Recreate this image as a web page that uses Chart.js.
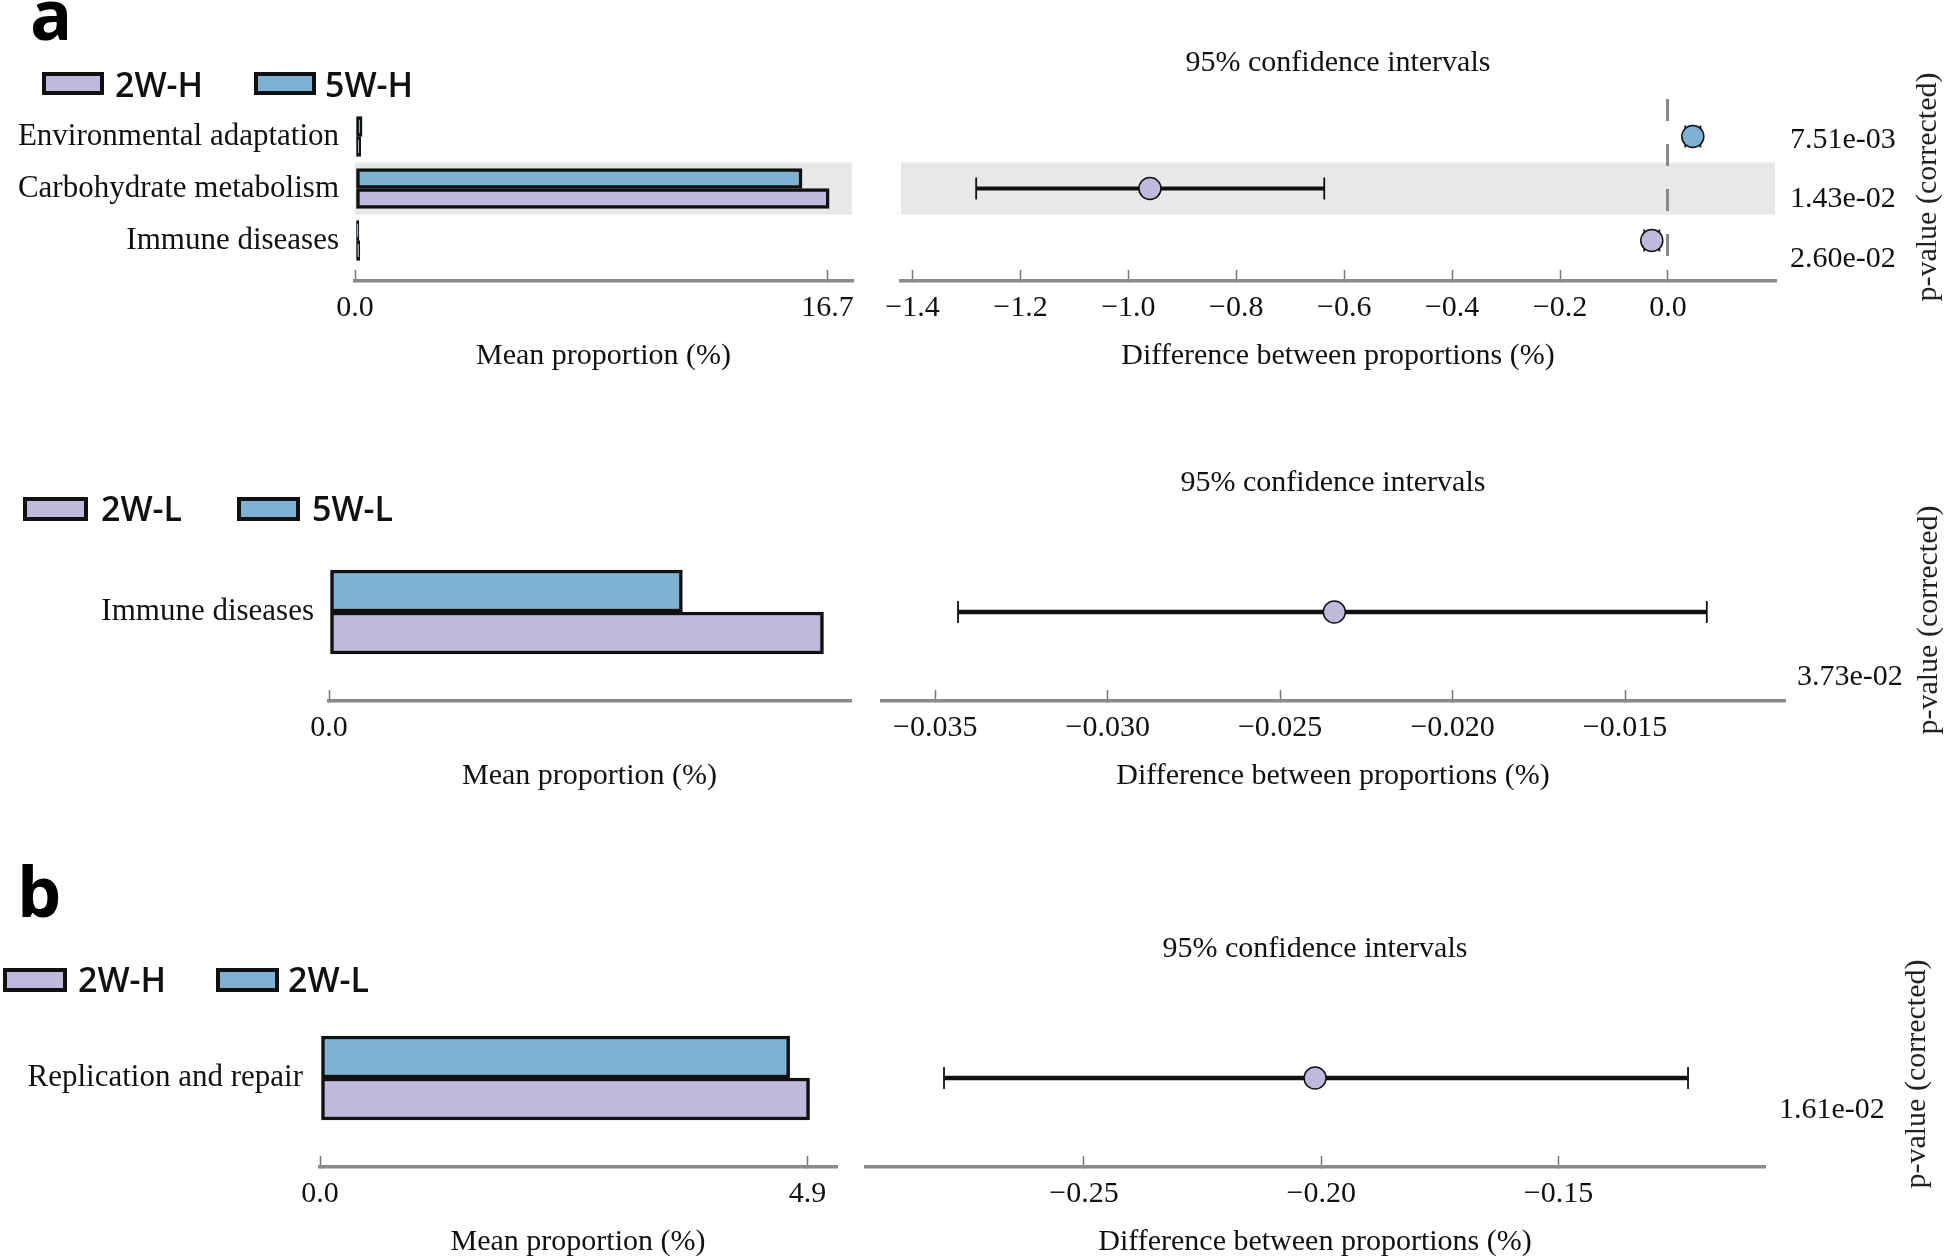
<!DOCTYPE html>
<html>
<head>
<meta charset="utf-8">
<title>Extended error bar plots</title>
<script src="https://cdn.jsdelivr.net/npm/chart.js@4.4.1/dist/chart.umd.min.js"></script>
<style>
  html, body { margin: 0; padding: 0; background: #fff; }
  #fig { position: relative; width: 1946px; height: 1260px; overflow: hidden; background: #fff; }
  #fig canvas { position: absolute; }
  #overlay { position: absolute; left: 0; top: 0; }
  .lg { font-family: "Open Sans", "Noto Sans", sans-serif; font-weight: 600; font-size: 34px; fill: #111; }
  .tag { font-family: "Open Sans", "Noto Sans", sans-serif; font-weight: 700; font-size: 70px; fill: #000; }
  .pv { font-family: "Liberation Serif", "Times New Roman", serif; font-size: 30px; fill: #222; }
</style>
</head>
<body>
<div id="fig">
  <canvas id="meanTop"></canvas>
  <canvas id="diffTop"></canvas>
  <canvas id="meanMid"></canvas>
  <canvas id="diffMid"></canvas>
  <canvas id="meanB"></canvas>
  <canvas id="diffB"></canvas>
  <svg id="overlay" width="1946" height="1260"></svg>
</div>
<script>
// panel a (top): 2W-H vs 5W-H
const topCategories = ['Environmental adaptation', 'Carbohydrate metabolism', 'Immune diseases'];
const topGroups = ['2W-H', '5W-H'];
const top2WH = [0.20, 16.76, 0.17];
const top5WH = [0.25, 15.80, 0.14];
const topDiff = [0.046, -0.960, -0.030];
const topCiLow = [0.032, -1.282, -0.044];
const topCiHigh = [0.060, -0.637, -0.016];
const topPValues = ['7.51e-03', '1.43e-02', '2.60e-02'];
const topMeanTicks = [0, 16.7];
const topDiffTicks = [-1.4, -1.2, -1.0, -0.8, -0.6, -0.4, -0.2, 0.0];

// panel a (middle): 2W-L vs 5W-L
const midCategories = ['Immune diseases'];
const midGroups = ['2W-L', '5W-L'];
const mid2WL = [0.0820];
const mid5WL = [0.0586];
const midDiff = [-0.02343];
const midCiLow = [-0.03434];
const midCiHigh = [-0.01263];
const midPValues = ['3.73e-02'];
const midMeanTicks = [0];
const midDiffTicks = [-0.035, -0.030, -0.025, -0.020, -0.015];

// panel b: 2W-H vs 2W-L
const bCategories = ['Replication and repair'];
const bGroups = ['2W-H', '2W-L'];
const b2WH = [4.92];
const b2WL = [4.72];
const bDiff = [-0.2013];
const bCiLow = [-0.2795];
const bCiHigh = [-0.1227];
const bPValues = ['1.61e-02'];
const bMeanTicks = [0, 4.9];
const bDiffTicks = [-0.25, -0.20, -0.15];

const PURPLE = '#bdbadb';
const BLUE = '#7fb1d3';
const INK = '#111';
const AXIS_GRAY = '#8a8a8a';
const BAND_GRAY = '#e8e8e8';
const SERIF = '"Liberation Serif", "Times New Roman", Times, serif';
const AXIS_H = 93;  // bottom axis block: ticks + title
const P_W = 150;    // p-value column

Chart.defaults.font.family = SERIF;
Chart.defaults.font.size = 30;
Chart.defaults.color = INK;
Chart.defaults.animation = false;
Chart.defaults.events = [];
Chart.defaults.plugins.legend.display = false;
Chart.defaults.plugins.tooltip.enabled = false;

const fmt = (v, d) => (v < 0 ? '\u2212' : '') + Math.abs(v).toFixed(d);

// scale bounds so that row 0 sits at firstPx and rows are step px apart
function rowBounds(top, bottom, firstPx, step) {
    const min = -(firstPx - top) / step;
    return { min, max: min + (bottom - top) / step };
}

function place(id, left, top, width, height) {
    const c = document.getElementById(id);
    c.width = width;
    c.height = height;
    c.style.left = left + 'px';
    c.style.top = top + 'px';
    c.style.width = width + 'px';
    c.style.height = height + 'px';
    return c;
}

// grey band behind highlighted rows
const rowBand = {
    id: 'rowBand',
    beforeDraw(chart, args, opts) {
        const rows = opts.rows || [];
        if (!rows.length) return;
        const { ctx, chartArea: a } = chart;
        const y = chart.scales.y;
        ctx.save();
        ctx.fillStyle = opts.color;
        rows.forEach(i => {
            const y1 = y.getPixelForValue(i - 0.5);
            const y2 = y.getPixelForValue(i + 0.5);
            ctx.fillRect(a.left, Math.min(y1, y2), a.right - a.left, Math.abs(y2 - y1));
        });
        ctx.restore();
    }
};

function bottomAxis(min, max, ticks, dec, title) {
    return {
        type: 'linear', position: 'bottom', min, max, offset: false,
        grid: {
            display: true, offset: false, drawOnChartArea: true, drawTicks: true,
            tickLength: -11, tickWidth: 1.5, tickColor: '#777',
            color: c => (c.tick && c.tick.value === 0) ? '#888' : 'rgba(0,0,0,0)',
            lineWidth: 3
        },
        border: { display: true, color: AXIS_GRAY, width: 3.5, dash: [22, 23] },
        ticks: { autoSkip: false, maxRotation: 0, padding: 20, color: INK, callback: v => fmt(v, dec) },
        title: { display: true, text: title, padding: 0, color: INK },
        afterBuildTicks: s => { s.ticks = ticks.map(v => ({ value: v })); },
        afterFit: s => { s.height = AXIS_H; }
    };
}

function meanChart(id, g, cats, groups, first, second, ticks, dec, bandRows) {
    const pad = 40;
    const canvas = place(id, 0, g.top - pad, g.right + pad, g.bottom + AXIS_H - (g.top - pad));
    const rows = rowBounds(g.top, g.bottom, g.row0, g.step);
    const x = bottomAxis(0, g.max, ticks, dec, 'Mean proportion (%)');
    x.grid.drawOnChartArea = false;
    return new Chart(canvas, {
        type: 'bar',
        data: {
            datasets: [
                { label: groups[1], data: second.map((v, i) => ({ x: v, y: i })), backgroundColor: BLUE },
                { label: groups[0], data: first.map((v, i) => ({ x: v, y: i })), backgroundColor: PURPLE }
            ]
        },
        options: {
            responsive: false, devicePixelRatio: 1, indexAxis: 'y',
            layout: { padding: { left: 0, top: pad, right: pad, bottom: 0 } },
            datasets: { bar: { barThickness: g.bar, borderColor: INK, borderWidth: 3.5, borderSkipped: false } },
            plugins: { rowBand: { rows: bandRows, color: BAND_GRAY } },
            scales: {
                y: {
                    type: 'linear', position: 'left', reverse: true, min: rows.min, max: rows.max, offset: false,
                    grid: { display: false, drawTicks: false, offset: false }, border: { display: false },
                    ticks: { autoSkip: false, padding: g.labelPad, color: INK, font: { size: 31 },
                             callback: (v, i) => cats[i] },
                    afterBuildTicks: s => { s.ticks = cats.map((_, i) => ({ value: i })); },
                    afterFit: s => { s.width = g.left; }
                },
                x
            }
        },
        plugins: [rowBand]
    });
}

function diffChart(id, g, groups, diff, lo, hi, pvals, ticks, dec, bandRows) {
    const padL = 40;
    const canvas = place(id, g.left - padL, g.titleTop, padL + (g.right - g.left) + P_W + 10, g.bottom + AXIS_H - g.titleTop);
    const rows = rowBounds(g.top, g.bottom, g.row0, g.step);
    const pRows = rowBounds(g.top, g.bottom, g.p0, g.pStep);
    // point colour follows the group with the larger mean
    const pointColors = diff.map(d => d > 0 ? BLUE : PURPLE);
    return new Chart(canvas, {
        type: 'scatter',
        data: {
            datasets: [
                {
                    type: 'scatter', label: 'difference', yAxisID: 'y',
                    data: diff.map((d, i) => ({ x: d, y: i })),
                    pointRadius: 11, pointBackgroundColor: pointColors,
                    pointBorderColor: INK, pointBorderWidth: 1.5, order: 0
                },
                {
                    type: 'scatter', label: 'caps', yAxisID: 'y',
                    data: lo.map((v, i) => ({ x: v, y: i })).concat(hi.map((v, i) => ({ x: v, y: i }))),
                    pointStyle: 'line', pointRotation: 90, pointRadius: 11,
                    pointBorderColor: INK, pointBorderWidth: 1.8, order: 1
                },
                {
                    type: 'bar', label: '95% CI', indexAxis: 'y', yAxisID: 'y',
                    data: lo.map((v, i) => ({ y: i, x: [v, hi[i]] })),
                    backgroundColor: INK, borderWidth: 0, barThickness: g.ciW, grouped: false, order: 2
                }
            ]
        },
        options: {
            responsive: false, devicePixelRatio: 1,
            layout: { padding: { left: padL, top: 0, right: 10, bottom: 0 } },
            plugins: {
                rowBand: { rows: bandRows, color: BAND_GRAY },
                title: {
                    display: true, text: '95% confidence intervals', fullSize: false, color: INK,
                    font: { size: 30, weight: 'normal' },
                    padding: { top: 0, bottom: g.top - g.titleTop - 36 }
                }
            },
            scales: {
                x: bottomAxis(g.min, g.max, ticks, dec, 'Difference between proportions (%)'),
                y: {
                    type: 'linear', position: 'left', display: false, reverse: true,
                    min: rows.min, max: rows.max, offset: false, grid: { offset: false },
                    afterFit: s => { s.width = 0; }
                },
                p: {
                    type: 'linear', axis: 'y', position: 'right', reverse: true,
                    min: pRows.min, max: pRows.max, offset: false,
                    grid: { display: false, drawTicks: false, offset: false }, border: { display: false },
                    ticks: { autoSkip: false, padding: g.pPad, color: INK, callback: (v, i) => pvals[i] },
                    afterBuildTicks: s => { s.ticks = pvals.map((_, i) => ({ value: i })); },
                    afterFit: s => { s.width = P_W; }
                }
            }
        },
        plugins: [rowBand]
    });
}

meanChart('meanTop',
    { left: 355, right: 852, top: 99, bottom: 281, row0: 136.5, step: 52, bar: 20, max: 17.567, labelPad: 16 },
    topCategories, topGroups, top2WH, top5WH, topMeanTicks, 1, [1]);
diffChart('diffTop',
    { left: 901, right: 1775, top: 99, bottom: 281, titleTop: 45, row0: 136.5, step: 52,
      p0: 140, pStep: 59.5, pPad: 15, min: -1.4213, max: 0.1983, ciW: 3.5 },
    topGroups, topDiff, topCiLow, topCiHigh, topPValues, topDiffTicks, 1, [1]);

meanChart('meanMid',
    { left: 329, right: 850, top: 540, bottom: 701, row0: 612, step: 52, bar: 42, max: 0.0864, labelPad: 15 },
    midCategories, midGroups, mid2WL, mid5WL, midMeanTicks, 1, []);
diffChart('diffMid',
    { left: 882, right: 1784, top: 540, bottom: 701, titleTop: 465, row0: 612, step: 52,
      p0: 677, pStep: 52, pPad: 13, min: -0.036545, max: -0.010391, ciW: 4 },
    midGroups, midDiff, midCiLow, midCiHigh, midPValues, midDiffTicks, 3, []);

meanChart('meanB',
    { left: 320, right: 836, top: 1000, bottom: 1167, row0: 1078, step: 52, bar: 42, max: 5.186, labelPad: 17 },
    bCategories, bGroups, b2WH, b2WL, bMeanTicks, 1, []);
diffChart('diffB',
    { left: 866, right: 1764, top: 1000, bottom: 1167, titleTop: 931, row0: 1078, step: 52,
      p0: 1110, pStep: 52, pPad: 15, min: -0.29594, max: -0.10669, ciW: 4 },
    bGroups, bDiff, bCiLow, bCiHigh, bPValues, bDiffTicks, 2, []);

// panel letters, legends and the rotated p-value captions
const svg = document.getElementById('overlay');
const NS = 'http://www.w3.org/2000/svg';
function svgEl(tag, attrs, text) {
    const el = document.createElementNS(NS, tag);
    for (const k in attrs) el.setAttribute(k, attrs[k]);
    if (text != null) el.textContent = text;
    svg.appendChild(el);
    return el;
}

svgEl('text', { x: 30, y: 40, class: 'tag' }, 'a');
svgEl('text', { x: 17, y: 917, class: 'tag' }, 'b');

const legendSpots = [
    { groups: topGroups, boxes: [[42, 72, 62, 23], [254, 72, 62, 23]], textX: [115, 325], base: 97 },
    { groups: midGroups, boxes: [[23, 497, 65, 24], [237, 497, 63, 24]], textX: [101, 312], base: 521 },
    { groups: bGroups, boxes: [[3, 968, 64, 24], [216, 968, 63, 24]], textX: [78, 288], base: 992 }
];
legendSpots.forEach(spot => {
    spot.groups.forEach((name, k) => {
        const [x, y, w, h] = spot.boxes[k];
        svgEl('rect', { x: x + 2, y: y + 2, width: w - 4, height: h - 4,
            fill: k === 0 ? PURPLE : BLUE, stroke: INK, 'stroke-width': 4 });
        svgEl('text', { x: spot.textX[k], y: spot.base, class: 'lg' }, name);
    });
});

[[1936, 187], [1937, 620], [1925, 1074]].forEach(([x, y]) => {
    svgEl('text', { x, y, class: 'pv', 'text-anchor': 'middle', transform: `rotate(-90 ${x} ${y})` },
        'p-value (corrected)');
});
</script>
</body>
</html>
